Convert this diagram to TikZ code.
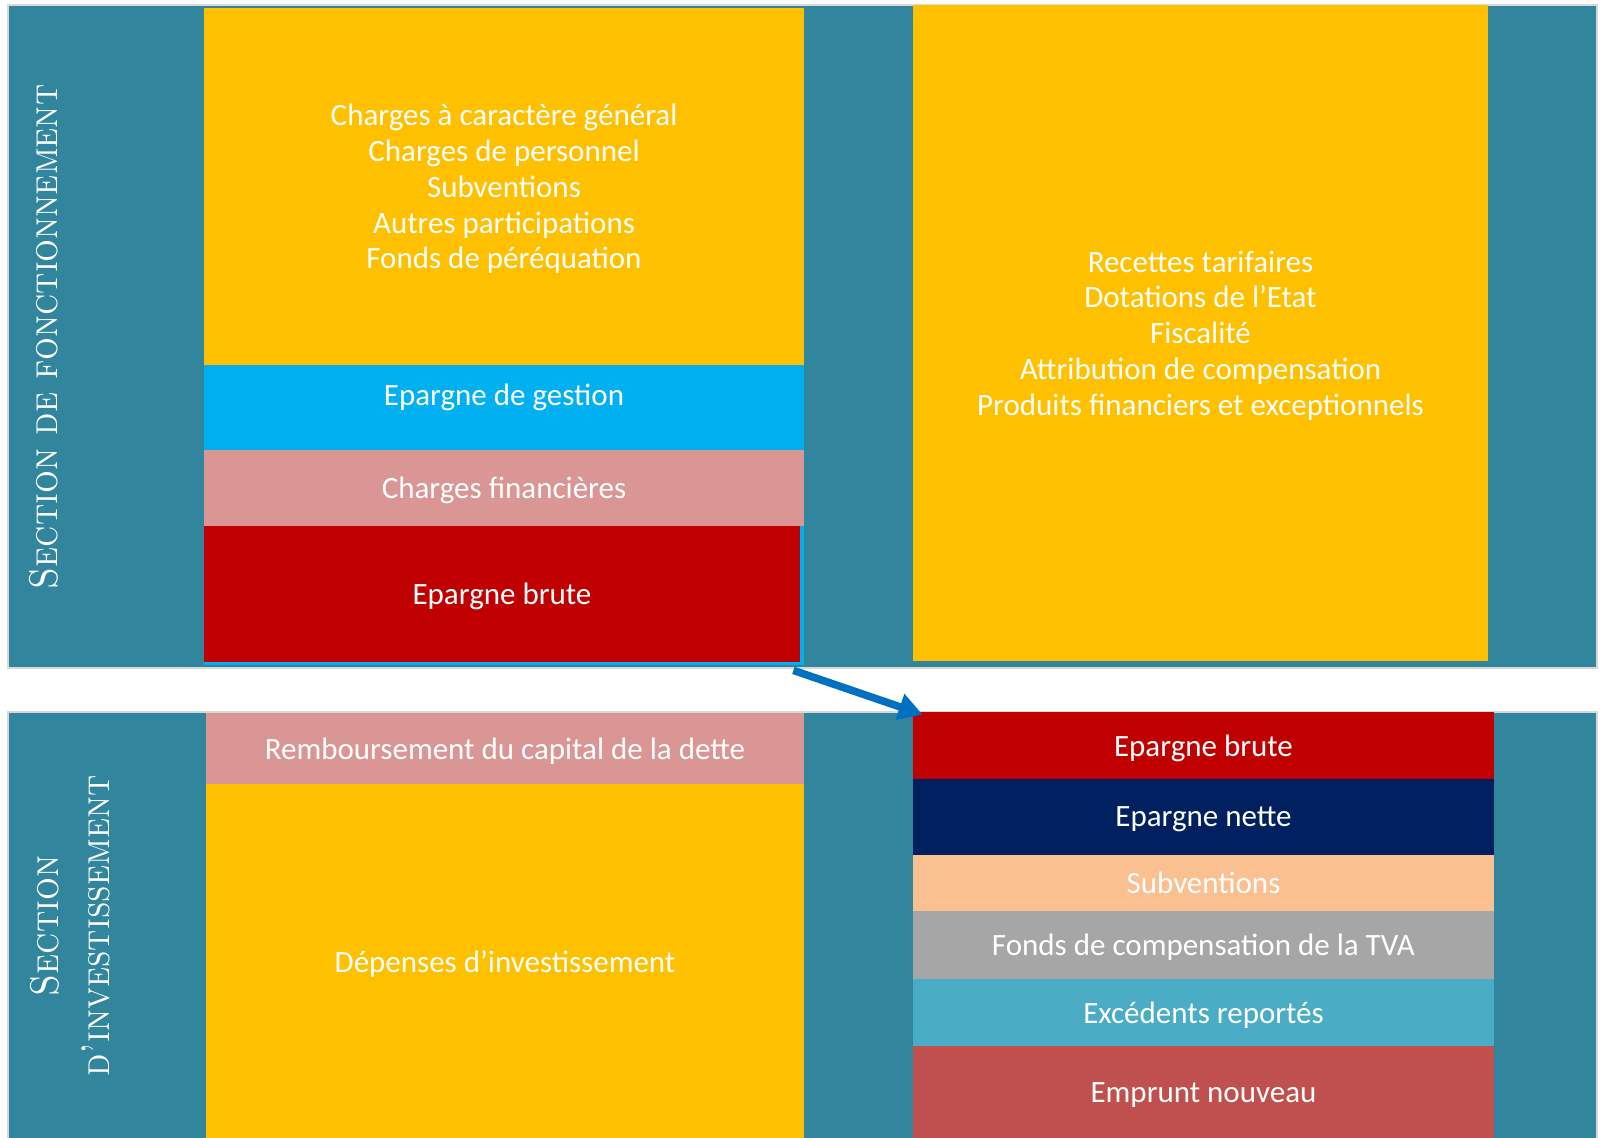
\documentclass[tikz,border=0pt]{standalone}
\usepackage{fontspec}
\newfontfamily\carlito{Carlito}
\usetikzlibrary{arrows.meta,positioning}

\definecolor{canard}{HTML}{31859C}
\definecolor{bordure}{HTML}{D9D9D9}
\definecolor{jaune}{HTML}{FFC000}
\definecolor{ciel}{HTML}{00B0F0}
\definecolor{rose}{HTML}{D99694}
\definecolor{rouge}{HTML}{C00000}
\definecolor{marine}{HTML}{002060}
\definecolor{peche}{HTML}{FAC090}
\definecolor{gris}{HTML}{A6A6A6}
\definecolor{turquoise}{HTML}{4BACC6}
\definecolor{brique}{HTML}{C0504D}
\definecolor{bleufleche}{HTML}{0070C0}

\newcommand{\etroit}[1]{\scalebox{0.9}[1]{#1}}

\tikzset{
	panneau/.style={rectangle, fill=canard, draw=bordure, line width=1.2pt, inner sep=0pt},
	bloc/.style={rectangle, inner sep=0pt, text=white, align=center, text depth=0pt,
		font=\carlito\fontsize{15.5}{17.9}\selectfont},
	titre/.style={rotate=90, text=white, align=center,
		font=\rmfamily\scshape\fontsize{20}{25.5}\selectfont},
	fleche/.style={-{Triangle[length=12pt, width=13pt]}, line width=3.8pt, bleufleche}
}

\begin{document}
\begin{tikzpicture}[x=0.5pt, y=-0.5pt]
\useasboundingbox (0,0) rectangle (1603,1138);

% Panels
\node[panneau, minimum width=794.5pt, minimum height=331.5pt]
	(Fonct) at (802.5,336.5) {};
\node[panneau, minimum width=794.5pt, minimum height=216.5pt]
	(Invest) at (802.5,928.5) {};

% Section titles
\node[titre] (TitreF) at (44,337) {\etroit{Section de fonctionnement}};
\node[titre] (TitreI) at (70,926) {\etroit{Section}\\\etroit{d’investissement}};

% Fonctionnement: depenses
\node[bloc, fill=jaune, minimum width=300pt, minimum height=178.5pt]
	(Charges) at (504,186.5) {Charges à caractère général\\Charges de personnel\\Subventions\\Autres participations\\Fonds de péréquation};
\node[bloc, fill=ciel, minimum width=300pt, minimum height=150pt]
	(Gestion) at (504,515) {};
\node[bloc] (GestionTxt) at (504,395) {Epargne de gestion};
\node[bloc, fill=rose, minimum width=300pt, minimum height=38pt]
	(Financieres) at (504,488) {Charges financières};
\node[bloc, fill=rouge, minimum width=298pt, minimum height=68pt]
	(BruteF) at (502,594) {Epargne brute};

% Fonctionnement: recettes
\node[bloc, fill=jaune, minimum width=287.5pt, minimum height=328pt]
	(Recettes) at (1200.5,333) {Recettes tarifaires\\Dotations de l’Etat\\Fiscalité\\Attribution de compensation\\Produits financiers et exceptionnels};

% Investissement: depenses
\node[bloc, fill=rose, minimum width=299pt, minimum height=35.5pt]
	(Remboursement) at (505,748.5) {Remboursement du capital de la dette};
\node[bloc, fill=jaune, minimum width=299pt, minimum height=178pt]
	(Depenses) at (505,962) {Dépenses d’investissement};

% Investissement: recettes
\foreach \nom/\couleur/\haut/\bas/\texte in {
	BruteI/rouge/712/779/Epargne brute,
	Nette/marine/779/855/Epargne nette,
	Subv/peche/855/911/Subventions,
	FCTVA/gris/911/979/Fonds de compensation de la TVA,
	Excedents/turquoise/979/1046/Excédents reportés,
	Emprunt/brique/1046/1140/Emprunt nouveau}
{
	\node[bloc, fill=\couleur, minimum width=290.5pt,
		minimum height={(\bas-\haut)*0.5pt}]
		(\nom) at (1203.5,{(\haut+\bas)/2}) {\texte};
}

% Epargne brute transferee
\draw[fleche] ([shift={(-7,8)}]BruteF.south east) -- ([shift={(10,3)}]BruteI.north west);
\end{tikzpicture}
\end{document}
